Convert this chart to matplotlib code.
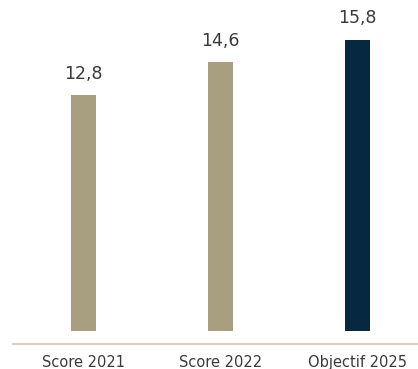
import matplotlib
matplotlib.use("Agg")
import matplotlib.pyplot as plt

categories = ["Score 2021", "Score 2022", "Objectif 2025"]
values = [12.8, 14.6, 15.8]
colors = ["#A89E80", "#A89E80", "#062841"]

plt.rcParams['font.family'] = ['DejaVu Sans']

fig = plt.figure(figsize=(4.18, 3.69), dpi=100)
ax = fig.add_axes([13 / 418, 25 / 369, 405 / 418, 344 / 369])

x = range(len(categories))
bars = ax.bar(x, values, width=0.1825, color=colors)

# value labels above each bar, French decimal comma
for rect, v in zip(bars, values):
    ax.annotate(f"{v:.1f}".replace(".", ","),
                (rect.get_x() + rect.get_width() / 2, v),
                xytext=(0, 9), textcoords="offset points",
                ha="center", va="bottom", fontsize=12.5, color="#3a3a3a")

ax.set_xlim(-0.515, 2.44)
ax.set_ylim(-0.706, 17.97)
ax.set_xticks(list(x))
ax.set_xticklabels(categories, fontsize=10.5, color="#3a3a3a")
ax.tick_params(axis="x", length=0, pad=8)
ax.set_yticks([])
for side in ["top", "left", "right"]:
    ax.spines[side].set_visible(False)
ax.spines["bottom"].set_color("#D6D1C2")
ax.spines["bottom"].set_linewidth(1.5)

fig.savefig("out.png", dpi=100)
